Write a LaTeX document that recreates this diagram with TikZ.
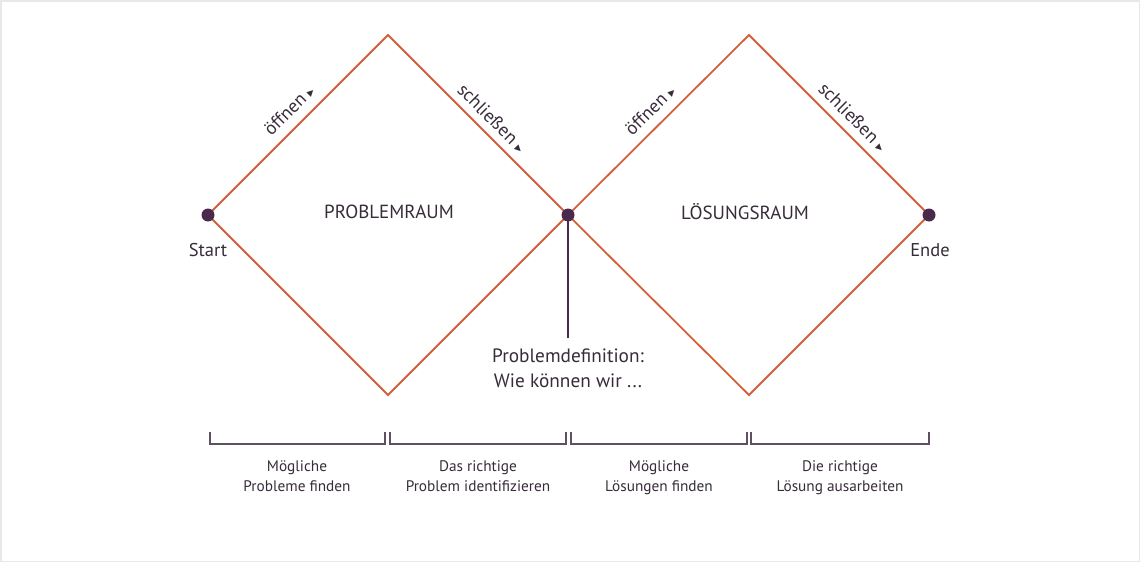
\documentclass[tikz,border=0pt]{standalone}
\usepackage{fontspec}
\setmainfont{PT Sans}
\newfontfamily\dejavu{DejaVu Sans}
\definecolor{edgeorange}{HTML}{D2603A}
\definecolor{dotpurple}{HTML}{4A2A4C}
\definecolor{txt}{HTML}{382C3A}
\definecolor{brk}{HTML}{5E5060}
\definecolor{frame}{HTML}{E8E8E8}
\tikzset{
  edge/.style={draw=edgeorange, line width=1.8pt, line join=miter},
  dotnode/.style={circle, fill=dotpurple, minimum size=13pt, inner sep=0pt},
  stem/.style={draw=dotpurple, line width=2pt},
  bracket/.style={draw=brk, line width=1.8pt},
  lbl/.style={text=txt, font=\fontsize{18.5}{20}\selectfont, inner sep=0pt},
  title/.style={text=txt, font=\fontsize{19}{22}\selectfont, inner sep=0pt},
  small/.style={text=txt, font=\fontsize{15.3}{20}\selectfont, align=center, inner sep=0pt},
  def/.style={text=txt, font=\fontsize{19.3}{25}\selectfont, align=center, inner sep=0pt}
}
\newcommand{\tri}{{\dejavu\fontsize{13}{13}\selectfont ▸}}
\begin{document}
\begin{tikzpicture}[x=1pt,y=1pt]
\useasboundingbox (0,0) rectangle (1140,-562);
\draw[frame, line width=1.5pt] (0.75,-0.75) rectangle (1139.25,-561.25);
% vertices
\coordinate (v1) at (208,-215);
\coordinate (t1) at (388,-35);
\coordinate (v2) at (568,-215);
\coordinate (b1) at (388,-395);
\coordinate (t2) at (749,-35);
\coordinate (v3) at (929,-215);
\coordinate (b2) at (749,-395);
% diamonds
\draw[edge] (v1) -- (t1) -- (v2) -- (b1) -- cycle;
\draw[edge] (v2) -- (t2) -- (v3) -- (b2) -- cycle;
% stem
\coordinate (stemend) at (568,-338);
\draw[stem] (v2) -- (stemend);
% dots
\node[dotnode] (start) at (v1) {};
\node[dotnode] (mid) at (v2) {};
\node[dotnode] (ende) at (v3) {};
% labels
\node[lbl] (startlbl) at (208,-250) {Start};
\node[lbl] (endelbl) at (930,-250) {Ende};
\node[title] (prob) at (389,-212) {PROBLEMRAUM};
\node[title] (loes) at (745,-212) {LÖSUNGSRAUM};
\node[lbl, rotate=45] (off1) at (289,-110) {öffnen\ \tri};
\node[lbl, rotate=-45] (sch1) at (492,-118) {schließen\ \tri};
\node[lbl, rotate=45] (off2) at (650,-110) {öffnen\ \tri};
\node[lbl, rotate=-45] (sch2) at (853,-117) {schließen\ \tri};
\node[def] (probdef) at (568,-368) {Problemdefinition:\\Wie können wir ...};
% brackets
\coordinate (k1l) at (210,-432); \coordinate (k1r) at (385,-432);
\coordinate (k2l) at (390,-432); \coordinate (k2r) at (566,-432);
\coordinate (k3l) at (571,-432); \coordinate (k3r) at (747,-432);
\coordinate (k4l) at (751,-432); \coordinate (k4r) at (929,-432);
\draw[bracket] (k1l) -- ++(0,-12) -| (k1r);
\draw[bracket] (k2l) -- ++(0,-12) -| (k2r);
\draw[bracket] (k3l) -- ++(0,-12) -| (k3r);
\draw[bracket] (k4l) -- ++(0,-12) -| (k4r);
\node[small] (s1) at (297,-477) {\strut Mögliche\\\strut Probleme finden};
\node[small] (s2) at (478,-477) {\strut Das richtige\\\strut Problem identifizieren};
\node[small] (s3) at (659,-477) {\strut Mögliche\\\strut Lösungen finden};
\node[small] (s4) at (840,-477) {\strut Die richtige\\\strut Lösung ausarbeiten};
\end{tikzpicture}
\end{document}
